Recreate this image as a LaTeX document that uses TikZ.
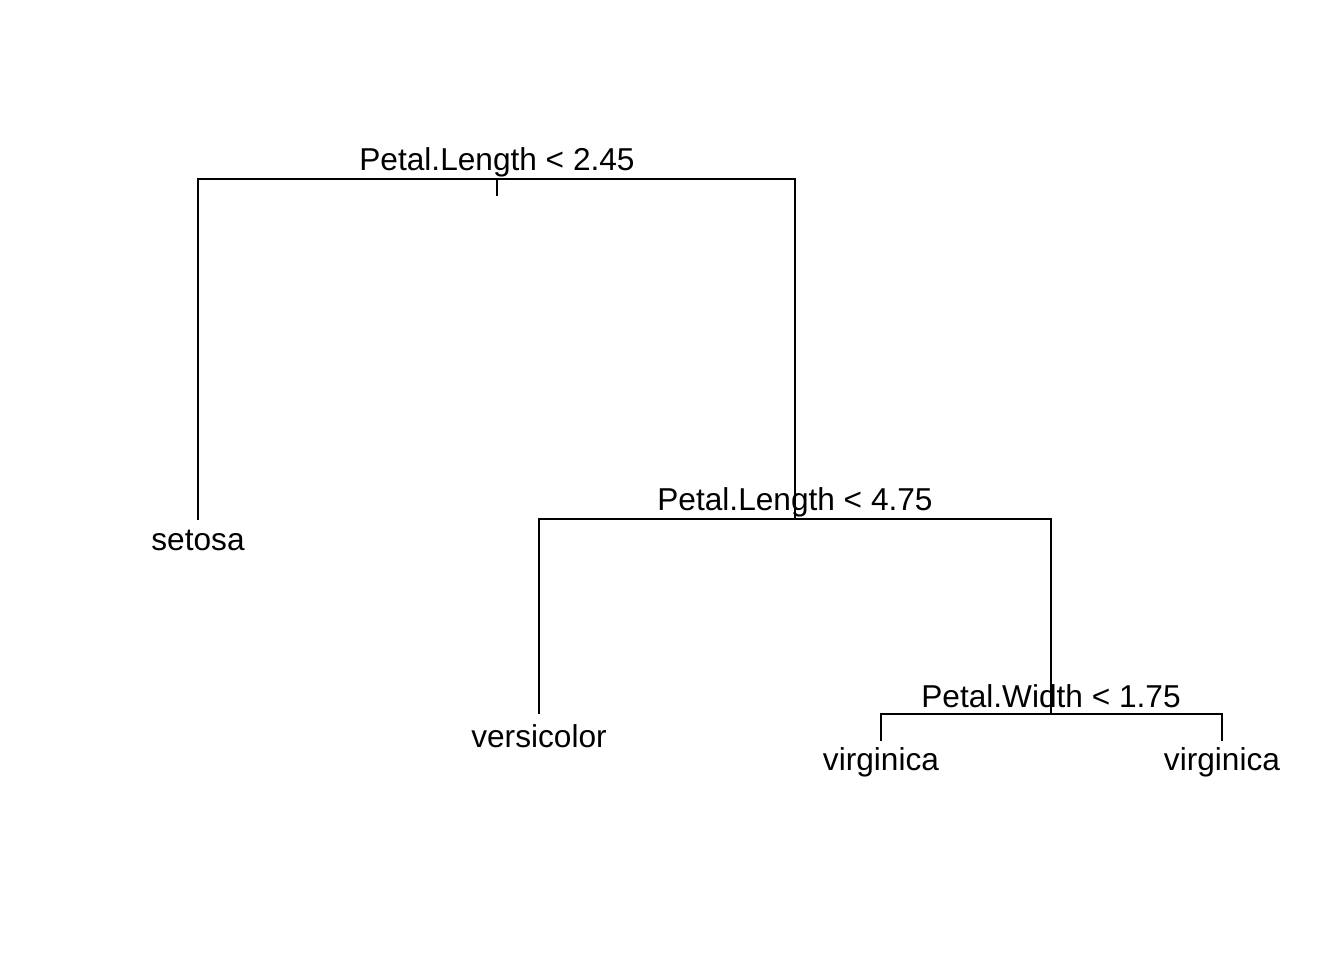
\documentclass[tikz,border=0pt]{standalone}
\usepackage{fontspec}
\setmainfont{Liberation Sans}
\usetikzlibrary{positioning}
\tikzstyle{splitlabel} = [anchor=base, inner sep=0pt, font=\fontsize{9}{11}\selectfont]
\tikzstyle{leaflabel} = [anchor=base, inner sep=0pt, font=\fontsize{9}{11}\selectfont]
\tikzstyle{branch} = [line width=0.6pt, line cap=butt]

\begin{document}
\begin{tikzpicture}
        \useasboundingbox (0,0) rectangle (13.44,9.6);
        % split points
        \coordinate (s1) at (4.97,7.81);
        \coordinate (s1stub) at (4.97,7.64);
        \coordinate (s1l) at (1.98,7.81);
        \coordinate (s1r) at (7.95,7.81);
        \coordinate (s2) at (7.95,4.41);
        \coordinate (s2l) at (5.39,4.41);
        \coordinate (s2r) at (10.51,4.41);
        \coordinate (s3) at (10.51,2.46);
        \coordinate (s3l) at (8.81,2.46);
        \coordinate (s3r) at (12.22,2.46);
        % leaf tops
        \coordinate (setosatop) at (1.98,4.40);
        \coordinate (versitop) at (5.39,2.46);
        \coordinate (virg1top) at (8.81,2.19);
        \coordinate (virg2top) at (12.22,2.19);

        \node (lab1) [splitlabel] at (4.97,7.90) {Petal.Length < 2.45};
        \node (lab2) [splitlabel] at (7.95,4.50) {Petal.Length < 4.75};
        \node (lab3) [splitlabel] at (10.51,2.53) {Petal.Width < 1.75};

        \node (setosa) [leaflabel] at (1.98,4.10) {setosa};
        \node (versicolor) [leaflabel] at (5.39,2.13) {versicolor};
        \node (virg1) [leaflabel] at (8.81,1.90) {virginica};
        \node (virg2) [leaflabel] at (12.22,1.90) {virginica};

        \draw [branch] (s1) -- (s1stub);
        \draw [branch] (setosatop) -- (s1l) -- (s1r) -- (s2);
        \draw [branch] (versitop) -- (s2l) -- (s2r) -- (s3);
        \draw [branch] (virg1top) -- (s3l) -- (s3r) -- (virg2top);
    \end{tikzpicture}
\end{document}
